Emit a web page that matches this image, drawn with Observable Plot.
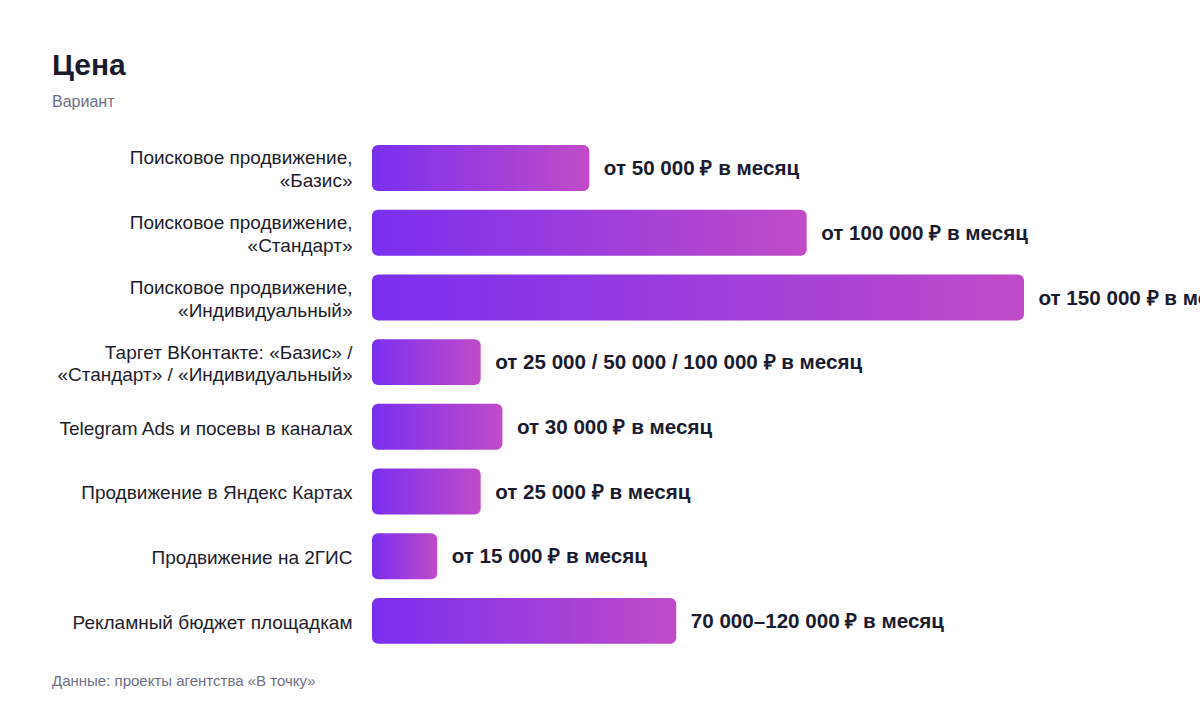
<!DOCTYPE html>
<html>
<head>
<meta charset="utf-8">
<script src="https://cdn.jsdelivr.net/npm/d3@7"></script>
<script src="https://cdn.jsdelivr.net/npm/@observablehq/plot@0.6"></script>
<style>
  html, body { margin: 0; padding: 0; background: #fff; }
  body { width: 1200px; height: 712px; position: relative; overflow: hidden; font-family: "Liberation Sans", Arial, Helvetica, sans-serif; }
  #title { position: absolute; left: 52px; top: 50px; font-size: 30px; font-weight: 700; color: #1b1b2f; line-height: 1; }
  #subtitle { position: absolute; left: 52px; top: 94px; font-size: 16px; color: #6f6f82; line-height: 1; }
  #chart { position: absolute; left: 0; top: 110px; }
  #caption { position: absolute; left: 52px; top: 673px; font-size: 15px; color: #6f6f82; line-height: 1; }
</style>
</head>
<body>
<div id="title">Цена</div>
<div id="subtitle">Вариант</div>
<div id="chart"></div>
<div id="caption">Данные: проекты агентства «В точку»</div>
<script>
const categories = [
  "Поисковое продвижение,\n«Базис»",
  "Поисковое продвижение,\n«Стандарт»",
  "Поисковое продвижение,\n«Индивидуальный»",
  "Таргет ВКонтакте: «Базис» /\n«Стандарт» / «Индивидуальный»",
  "Telegram Ads и посевы в каналах",
  "Продвижение в Яндекс Картах",
  "Продвижение на 2ГИС",
  "Рекламный бюджет площадкам"
];
const values = [50000, 100000, 150000, 25000, 30000, 25000, 15000, 70000];
const valueLabels = [
  "от 50 000 ₽ в месяц",
  "от 100 000 ₽ в месяц",
  "от 150 000 ₽ в месяц",
  "от 25 000 / 50 000 / 100 000 ₽ в месяц",
  "от 30 000 ₽ в месяц",
  "от 25 000 ₽ в месяц",
  "от 15 000 ₽ в месяц",
  "70 000–120 000 ₽ в месяц"
];

const data = categories.map((c, i) => ({category: c, value: values[i], label: valueLabels[i]}));

const chart = Plot.plot({
  width: 1200,
  height: 560,
  marginLeft: 372,
  marginRight: 176,
  marginTop: 16.3,
  marginBottom: 7.4,
  style: {color: "#1d1d2b", fontFamily: "'Liberation Sans', Arial, Helvetica, sans-serif", overflow: "visible"},
  x: {domain: [0, 150000], axis: null},
  y: {domain: categories, padding: 0.29, round: false, label: null},
  marks: [
    Plot.barX(data, {x: "value", y: "category", fill: "url(#barGrad)", rx: 6}),
    Plot.text(data, {x: "value", y: "category", text: "label", dx: 14, textAnchor: "start", fontSize: 20.6, fontWeight: 700, fill: "#1b1b2f"}),
    Plot.axisY({tickSize: 0, tickPadding: 20, fontSize: 19, lineHeight: 1.2, label: null})
  ]
});

const svg = d3.select(chart);
const defs = svg.insert("defs", ":first-child");
const grad = defs.append("linearGradient").attr("id", "barGrad").attr("x1", "0").attr("x2", "1").attr("y1", "0").attr("y2", "0");
grad.append("stop").attr("offset", "0%").attr("stop-color", "#7a2ff0");
grad.append("stop").attr("offset", "100%").attr("stop-color", "#c04bc8");

document.getElementById("chart").appendChild(chart);
</script>
</body>
</html>
